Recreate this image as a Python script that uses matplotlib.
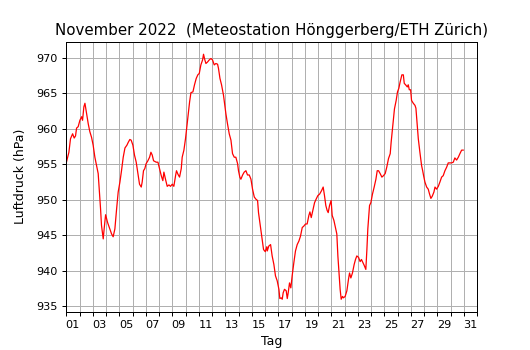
#=== Define package ===#
import numpy as np
import matplotlib
matplotlib.use('Agg')
import matplotlib.pyplot as plt

#=== Data: Tage seit 1. Nov 00:00 / Luftdruck in hPa ===#
tag = [0.0, 0.2, 0.32, 0.48, 0.6, 0.7, 0.78, 0.9, 1.03, 1.16, 1.23, 1.33, 1.41, 1.53, 1.66,
       1.78, 1.91, 2.03, 2.16, 2.29, 2.41, 2.49, 2.59, 2.66, 2.79, 2.87, 2.97, 3.12, 3.29,
       3.42, 3.54, 3.67, 3.8, 3.92, 4.05, 4.17, 4.3, 4.43, 4.58, 4.68, 4.8,
       4.9, 5.03, 5.15, 5.28, 5.41, 5.53, 5.66, 5.73, 5.83, 5.93, 6.03, 6.16, 6.29, 6.39,
       6.49, 6.59, 6.79, 6.92, 7.04, 7.17, 7.29, 7.37, 7.49, 7.62, 7.75, 7.87, 8.0, 8.12,
       8.25, 8.32, 8.43, 8.55, 8.68, 8.75, 8.88, 9.0, 9.1, 9.2, 9.31, 9.41, 9.56, 9.68,
       9.81, 9.93,
       10.04, 10.16, 10.29, 10.36, 10.46, 10.54, 10.66, 10.79, 10.92, 11.04, 11.17, 11.29,
       11.42, 11.49, 11.6, 11.72, 11.87, 11.97, 12.05, 12.17, 12.3, 12.43, 12.55, 12.68,
       12.8, 12.93, 13.0, 13.1, 13.18, 13.31, 13.43, 13.56, 13.68, 13.81, 13.94, 14.06,
       14.19, 14.31, 14.44, 14.51, 14.64, 14.77, 14.89, 15.02, 15.14,
       15.17, 15.29, 15.42, 15.54, 15.67, 15.79, 15.92, 16.05, 16.12, 16.22, 16.3, 16.37,
       16.47, 16.6, 16.68, 16.75, 16.85, 16.95, 17.05, 17.18, 17.3, 17.43, 17.56, 17.68,
       17.81, 17.93, 18.06, 18.18, 18.31, 18.39, 18.49, 18.61, 18.74, 18.86, 18.99, 19.12,
       19.27, 19.39, 19.49, 19.59, 19.69, 19.77, 19.87, 19.99, 20.07, 20.2,
       20.42, 20.5, 20.6, 20.67, 20.75, 20.85, 20.92, 21.05, 21.18, 21.3, 21.38, 21.48,
       21.6, 21.73, 21.83, 21.93, 22.06, 22.18, 22.28, 22.38, 22.48, 22.61, 22.69, 22.76,
       22.89, 22.99, 23.11, 23.24, 23.37, 23.47, 23.57, 23.69, 23.82, 23.94, 24.07, 24.19,
       24.32, 24.45, 24.52, 24.65, 24.77, 24.9, 25.0, 25.1, 25.2, 25.33,
       25.44, 25.51, 25.61, 25.74, 25.81, 25.89, 25.99, 26.06, 26.19, 26.32, 26.39, 26.49,
       26.57, 26.69, 26.82, 26.9, 26.97, 27.07, 27.2, 27.32, 27.42, 27.52, 27.62, 27.75,
       27.83, 27.95, 28.08, 28.2, 28.33, 28.45, 28.58, 28.71, 28.83, 28.96, 29.08, 29.21,
       29.33, 29.46, 29.59, 29.71, 29.84, 29.96]

druck = [955.2, 956.7, 958.6, 959.3, 958.7, 959.0, 960.1, 960.3, 961.2, 961.7, 961.2, 963.1,
         963.6, 962.2, 960.7, 959.6, 958.8, 957.7, 956.0, 954.8, 953.7, 951.5, 948.7, 946.4,
         944.5, 946.1, 947.9, 946.8, 945.9, 945.2, 944.8, 945.9, 948.7, 951.1, 952.5, 954.1,
         956.0, 957.3, 957.7, 958.1, 958.5,
         958.4, 957.7, 956.3, 955.3, 953.7, 952.2, 951.8, 952.5, 954.1, 954.4, 955.1, 955.5,
         956.0, 956.7, 956.3, 955.5, 955.3, 955.3, 954.4, 953.4, 952.7, 953.9, 952.9, 951.9,
         952.1, 951.9, 952.2, 951.9, 953.4, 954.1, 953.6, 953.2, 954.4, 956.0, 957.0, 958.6,
         960.3, 962.1, 963.8, 965.1, 965.2, 966.2, 967.1, 967.6,
         967.8, 969.0, 969.7, 970.5, 969.7, 969.2, 969.4, 969.7, 969.9, 969.7, 969.0, 969.2,
         969.1, 968.5, 967.1, 966.2, 964.7, 963.3, 962.1, 960.7, 959.3, 958.4, 956.5, 956.0,
         956.0, 955.1, 954.1, 953.2, 952.9, 953.5, 953.9, 954.1, 953.5, 953.5, 952.9, 951.5,
         950.4, 950.1, 949.9, 948.2, 946.4, 944.5, 943.0, 942.7, 943.4,
         942.8, 943.5, 943.7, 942.1, 940.9, 939.3, 938.6, 937.4, 936.1, 936.2, 936.0, 936.9,
         937.4, 937.2, 936.1, 936.9, 938.3, 937.6, 939.3, 941.2, 942.8, 943.7, 944.2, 944.9,
         946.1, 946.3, 946.6, 946.6, 947.8, 948.3, 947.5, 948.5, 949.6, 950.1, 950.6, 950.8,
         951.3, 951.8, 950.6, 949.2, 948.5, 948.2, 949.2, 949.9, 947.8, 947.1,
         945.2, 942.1, 939.3, 937.4, 936.0, 936.4, 936.2, 936.4, 937.2, 938.8, 939.7, 939.0,
         939.7, 940.9, 941.6, 942.1, 941.9, 941.3, 941.6, 941.2, 940.8, 940.2, 943.0, 945.9,
         949.2, 949.6, 950.8, 951.8, 952.9, 954.1, 954.1, 953.7, 953.2, 953.4, 953.7, 954.6,
         955.8, 956.5, 958.1, 960.5, 962.8, 964.0, 965.2, 965.7, 966.6, 967.6,
         967.6, 966.4, 966.2, 965.9, 966.2, 965.5, 965.5, 964.0, 963.6, 963.3, 962.9, 960.5,
         958.6, 956.7, 954.8, 954.1, 953.4, 952.5, 951.8, 951.5, 950.8, 950.2, 950.5, 951.1,
         951.8, 951.5, 951.9, 952.5, 953.2, 953.4, 954.1, 954.6, 955.2, 955.2, 955.2, 955.3,
         955.9, 955.6, 956.0, 956.5, 957.0, 957.0]

tag_labels = ["%02d" % d for d in range(1, 32, 2)]

#=== Plot ===#
fig, ax = plt.subplots(figsize=(530 / 90, 350 / 90), dpi=90)

ax.plot(tag, druck, color='red', linewidth=1)

ax.set_xlim(0, 31)
ax.set_xticks(np.arange(0, 32))
ax.set_xticklabels([])
ax.set_xticks(np.arange(0.5, 31, 2), minor=True)
ax.set_xticklabels(tag_labels, minor=True)
ax.tick_params(axis='x', which='minor', length=0, pad=7)
ax.tick_params(axis='both', which='both', labelsize=9)

ax.grid(True)
ax.set_axisbelow(True)

ax.set_title("November 2022  (Meteostation Hönggerberg/ETH Zürich)")
ax.set_xlabel("Tag")
ax.set_ylabel("Luftdruck (hPa)", labelpad=7)

plt.savefig("out.png", dpi=90)
